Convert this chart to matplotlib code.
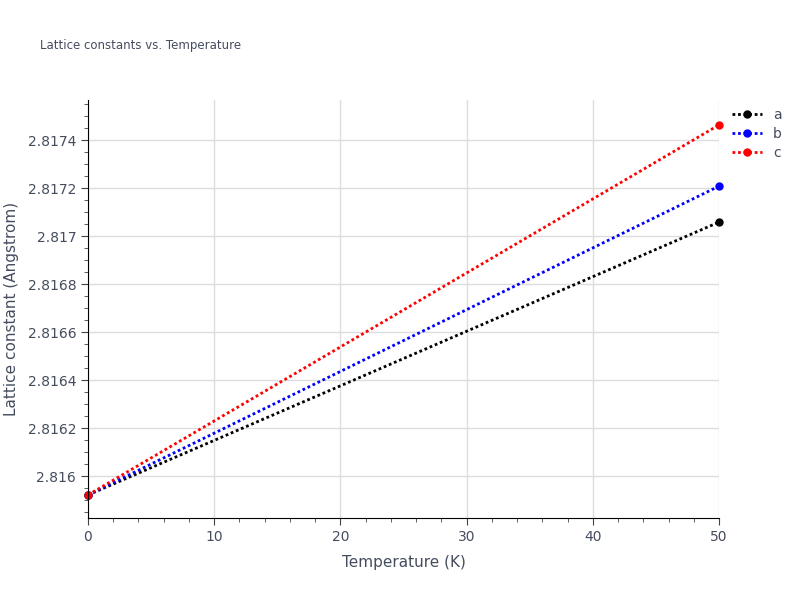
import matplotlib
matplotlib.use("Agg")
import matplotlib.pyplot as plt
from matplotlib.ticker import MultipleLocator, FuncFormatter

temps = [0, 50]
series_names = ["a", "b", "c"]
a_vals = [2.815921, 2.817058]
b_vals = [2.815921, 2.817208]
c_vals = [2.815921, 2.817463]
colors = ["black", "blue", "red"]

fig = plt.figure(figsize=(8, 6), dpi=100)
ax = fig.add_axes([88/800, 1-518/600, (719-88)/800, (518-100)/600])
for name, vals, col in zip(series_names, [a_vals, b_vals, c_vals], colors):
    ax.plot(temps, vals, linestyle=(0, (1, 1)), linewidth=2, color=col,
            marker="o", markersize=5, label=name, clip_on=False)

ax.set_xlim(0, 50)
ax.set_ylim(2.815825, 2.817567)
ax.xaxis.set_major_locator(MultipleLocator(10))
ax.xaxis.set_minor_locator(MultipleLocator(2))
ax.yaxis.set_major_locator(MultipleLocator(0.0002))
ax.yaxis.set_minor_locator(MultipleLocator(0.00005))
ax.yaxis.set_major_formatter(FuncFormatter(lambda v, p: f"{v:.4f}".rstrip("0").rstrip(".")))
ax.grid(True, which="major", color="#dddddd", linewidth=1)
ax.set_axisbelow(True)
for s in ["top", "right"]:
    ax.spines[s].set_visible(False)
for s in ["left", "bottom"]:
    ax.spines[s].set_color("black")
tc = "#444c5e"
ax.tick_params(which="major", length=5, colors="#444444", labelcolor=tc, labelsize=10)
ax.tick_params(which="minor", length=3, colors="#444444")
ax.set_xlabel("Temperature (K)", color=tc, fontsize=11, labelpad=8)
ax.set_ylabel("Lattice constant (Angstrom)", color=tc, fontsize=11, labelpad=6)
fig.text(40/800, 1-46/600, "Lattice constants vs. Temperature", color=tc, fontsize=8.5, va="center")
leg = ax.legend(loc="upper left", bbox_to_anchor=(1.0, 1.01), frameon=False,
                fontsize=10, handlelength=2.2, labelspacing=0.35, labelcolor=tc)
fig.savefig("out.png", dpi=100)
